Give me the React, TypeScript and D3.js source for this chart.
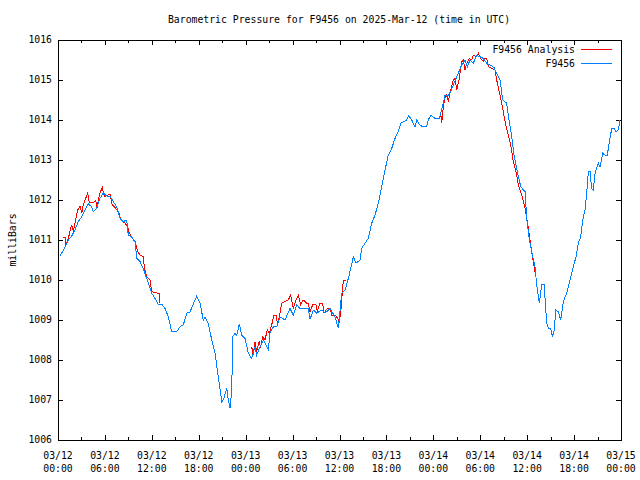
import React from 'react';
import { scaleUtc, scaleLinear, line as d3Line, utcHour, utcFormat } from 'd3';

// hours after 2025-03-12 00:00 UTC, pressure in millibars
const stationReadings: [number, number][] = [
  [0.26, 1010.6], [0.55, 1010.7], [0.9, 1010.83], [1.32, 1011.0], [1.75, 1011.1],
  [2.17, 1011.25], [2.6, 1011.46], [3.03, 1011.58], [3.45, 1011.75], [3.88, 1011.9],
  [4.31, 1011.83], [4.51, 1011.7], [4.95, 1011.8], [5.37, 1012.04], [5.79, 1012.18],
  [6.23, 1012.1], [6.65, 1012.1], [7.07, 1011.96], [7.51, 1011.83], [7.93, 1011.54],
  [8.35, 1011.46], [8.79, 1011.5], [8.99, 1011.12], [9.43, 1011.07], [9.85, 1010.96],
  [10.07, 1010.54], [10.49, 1010.46], [10.91, 1010.29], [11.34, 1010.04], [11.77, 1009.79],
  [11.98, 1009.67], [12.41, 1009.54], [12.83, 1009.38], [13.26, 1009.4], [13.68, 1009.29],
  [14.11, 1009.08], [14.54, 1008.71], [15.18, 1008.71], [15.6, 1008.83], [16.03, 1008.88],
  [16.46, 1009.17], [16.88, 1009.2], [17.3, 1009.4], [17.74, 1009.6], [18.16, 1009.42],
  [18.58, 1009.0], [18.8, 1009.07], [19.22, 1008.92], [19.66, 1008.5], [20.08, 1008.17],
  [20.5, 1007.58], [20.94, 1006.96], [21.14, 1007.0], [21.58, 1007.29], [21.78, 1007.0],
  [22.0, 1006.79], [22.22, 1007.25], [22.34, 1008.58], [22.64, 1008.67], [22.85, 1008.62],
  [23.19, 1008.9], [23.49, 1008.62], [23.92, 1008.54], [24.34, 1008.17], [24.77, 1008.04],
  [25.19, 1008.33], [25.41, 1008.12], [25.83, 1008.33], [26.26, 1008.5], [26.9, 1008.25],
  [27.11, 1008.67], [27.54, 1008.83], [27.97, 1008.83], [28.39, 1009.08], [29.03, 1009.0],
  [29.67, 1009.29], [30.09, 1009.12], [30.53, 1009.38], [30.95, 1009.29], [32.01, 1009.29],
  [32.23, 1009.02], [32.65, 1009.25], [33.09, 1009.17], [33.73, 1009.25], [34.15, 1009.17],
  [34.79, 1009.29], [35.43, 1009.08], [35.85, 1008.79], [36.28, 1009.67], [36.71, 1009.75],
  [37.13, 1010.04], [37.34, 1010.21], [37.77, 1010.58], [38.11, 1010.42], [38.62, 1010.5],
  [38.84, 1010.79], [39.26, 1010.92], [39.69, 1011.04], [40.12, 1011.42], [40.54, 1011.62],
  [40.96, 1011.92], [41.4, 1012.33], [41.82, 1012.75], [42.24, 1013.12], [42.68, 1013.29],
  [43.1, 1013.54], [43.52, 1013.71], [43.83, 1013.92], [44.25, 1013.96], [44.6, 1014.0],
  [44.85, 1014.11], [45.24, 1014.0], [45.66, 1013.83], [45.88, 1014.0], [46.21, 1013.88],
  [46.64, 1013.83], [47.15, 1013.83], [47.36, 1014.0], [47.67, 1014.12], [48.22, 1014.04],
  [48.77, 1014.03], [48.94, 1014.17], [49.28, 1014.42], [49.49, 1014.62], [49.92, 1014.62],
  [50.22, 1014.71], [50.56, 1014.88], [51.2, 1015.17], [51.63, 1015.38], [52.05, 1015.5],
  [52.35, 1015.33], [52.69, 1015.5], [53.11, 1015.42], [53.55, 1015.62], [53.97, 1015.58],
  [54.39, 1015.54], [54.83, 1015.42], [55.25, 1015.38], [55.76, 1015.31], [56.11, 1015.17],
  [56.53, 1015.0], [56.87, 1014.5], [57.38, 1014.42], [57.59, 1014.12], [58.02, 1013.58],
  [58.32, 1013.12], [58.74, 1012.71], [59.18, 1012.33], [59.73, 1012.21], [59.94, 1011.54],
  [60.28, 1011.0], [60.58, 1010.71], [61.0, 1010.33], [61.22, 1009.88], [61.55, 1009.42],
  [61.86, 1009.89], [62.16, 1009.88], [62.3, 1009.5], [62.5, 1008.92], [62.71, 1008.79],
  [63.02, 1008.79], [63.22, 1008.58], [63.47, 1008.75], [63.65, 1009.25], [63.98, 1009.21],
  [64.29, 1009.0], [64.62, 1009.46], [65.06, 1009.67], [65.48, 1010.0], [65.7, 1010.17],
  [65.9, 1010.33], [66.25, 1010.58], [66.54, 1010.92], [66.85, 1011.08], [67.1, 1011.5],
  [67.4, 1011.75], [67.61, 1012.17], [67.82, 1012.71], [68.04, 1012.71], [68.25, 1012.29],
  [68.46, 1012.25], [68.68, 1012.67], [69.1, 1012.92], [69.32, 1012.83], [69.66, 1013.17],
  [69.96, 1013.12], [70.25, 1013.12], [70.51, 1013.46], [70.82, 1013.79], [71.11, 1013.79],
  [71.36, 1013.71], [71.66, 1013.75], [71.88, 1014.0],
];

const analysisMorning12: [number, number][] = [
  [0.68, 1011.07], [0.98, 1011.07], [1.02, 1010.88], [1.32, 1011.04], [1.53, 1011.21],
  [1.75, 1011.38], [1.96, 1011.21], [2.26, 1011.5], [2.52, 1011.75], [2.81, 1011.85],
  [3.03, 1011.67], [3.24, 1011.88], [3.54, 1012.04], [3.8, 1012.17], [4.0, 1011.93],
  [4.51, 1011.93], [4.82, 1011.98], [5.03, 1011.79], [5.15, 1012.0], [5.37, 1012.17],
  [5.67, 1012.32], [5.92, 1012.08], [6.36, 1012.12], [6.65, 1012.15], [6.94, 1011.88],
  [7.38, 1011.79], [7.8, 1011.67], [8.06, 1011.5], [8.57, 1011.42], [8.91, 1011.33],
  [9.08, 1011.21], [9.5, 1011.04], [9.85, 1010.96], [10.19, 1010.71], [10.49, 1010.62],
  [10.91, 1010.58], [11.04, 1010.33], [11.34, 1010.08], [11.77, 1010.0], [11.98, 1009.71],
  [12.41, 1009.68], [12.92, 1009.67], [13.05, 1009.42],
];

const analysisMorning13: [number, number][] = [
  [24.77, 1008.33], [24.98, 1008.12], [25.19, 1008.46], [25.41, 1008.21], [25.71, 1008.46],
  [25.92, 1008.33], [26.18, 1008.58], [26.47, 1008.5], [26.77, 1008.75], [27.02, 1008.67],
  [27.33, 1008.88], [27.62, 1009.12], [27.88, 1009.12], [28.05, 1008.92], [28.3, 1009.08],
  [28.61, 1009.42], [29.03, 1009.46], [29.45, 1009.5], [29.76, 1009.62], [30.09, 1009.29],
  [30.44, 1009.5], [30.73, 1009.62], [31.04, 1009.38], [31.37, 1009.5], [31.81, 1009.42],
  [32.01, 1009.42], [32.23, 1009.21], [32.57, 1009.38], [33.0, 1009.38], [33.16, 1009.21],
  [33.51, 1009.42], [33.85, 1009.42], [34.02, 1009.17], [34.44, 1009.29], [34.79, 1009.29],
  [35.0, 1009.12], [35.43, 1009.12], [35.64, 1009.08], [35.98, 1008.96], [36.16, 1009.2],
  [36.49, 1010.0], [36.83, 1010.0],
];

const analysisMorning14: [number, number][] = [
  [48.94, 1014.17], [49.07, 1013.92], [49.28, 1014.33], [49.49, 1014.54], [49.71, 1014.62],
  [49.92, 1014.46], [50.22, 1014.75], [50.56, 1015.0], [50.77, 1015.04], [50.99, 1014.75],
  [51.32, 1015.04], [51.63, 1015.46], [51.84, 1015.5], [52.05, 1015.25], [52.27, 1015.42],
  [52.6, 1015.54], [52.91, 1015.5], [53.11, 1015.62], [53.46, 1015.58], [53.75, 1015.67],
  [54.06, 1015.54], [54.39, 1015.46], [54.61, 1015.54], [54.83, 1015.54], [55.03, 1015.33],
  [55.47, 1015.29], [55.89, 1015.25], [56.18, 1014.92], [56.53, 1014.62], [56.87, 1014.29],
  [57.17, 1013.96], [57.59, 1013.62], [57.9, 1013.38], [58.23, 1012.96], [58.57, 1012.71],
  [58.87, 1012.38], [59.3, 1012.12], [59.73, 1011.79], [60.15, 1011.29], [60.58, 1010.71],
  [60.78, 1010.46], [61.0, 1010.21],
];

const yTicks = [1006, 1007, 1008, 1009, 1010, 1011, 1012, 1013, 1014, 1015, 1016];
const legendNames = ['F9456 Analysis', 'F9456'];
const legendColors = ['#ff0000', '#0080ff'];

const START = Date.UTC(2025, 2, 12, 0, 0);
const END = Date.UTC(2025, 2, 15, 0, 0);
const toDate = (h: number) => new Date(START + h * 3600 * 1000);

const W = 640;
const H = 480;
const M = { left: 58, right: 621, top: 40, bottom: 440 };
const FONT = '"DejaVu Sans Mono", monospace';

export default function App() {
  const x = scaleUtc().domain([new Date(START), new Date(END)]).range([M.left, M.right]);
  const y = scaleLinear().domain([1006, 1016]).range([M.bottom, M.top]);

  const line = d3Line<[number, number]>()
    .x(d => x(toDate(d[0])))
    .y(d => y(d[1]));

  const majors = x.ticks(utcHour.every(6)!);
  const minors = x.ticks(utcHour.every(3)!).filter(t => t.getUTCHours() % 6 !== 0);
  const fmtDay = utcFormat('%m/%d');
  const fmtTime = utcFormat('%H:%M');

  return (
    <div style={{ position: 'absolute', left: 0, top: 0, background: '#fff' }}>
      <svg width={W} height={H} style={{ display: 'block', fontFamily: FONT }}>
        <rect width={W} height={H} fill="#fff" />

        <text x={W / 2 + 19} y={23} textAnchor="middle" fontSize={9.8} fill="#000">
          Barometric Pressure for F9456 on 2025-Mar-12 (time in UTC)
        </text>

        <text
          transform={`translate(16,${(M.top + M.bottom) / 2}) rotate(-90)`}
          textAnchor="middle"
          fontSize={9.8}
          fill="#000"
        >
          milliBars
        </text>

        {/* y ticks, mirrored on the right */}
        {yTicks.map(t => (
          <g key={t} shapeRendering="crispEdges">
            <line x1={M.left} x2={M.left + 5} y1={Math.round(y(t)) + 0.5} y2={Math.round(y(t)) + 0.5} stroke="#000" />
            <line x1={M.right - 5} x2={M.right} y1={Math.round(y(t)) + 0.5} y2={Math.round(y(t)) + 0.5} stroke="#000" />
            <text x={52} y={y(t)} dy="0.35em" textAnchor="end" fontSize={9.8} fill="#000">
              {t}
            </text>
          </g>
        ))}

        {/* x ticks, mirrored on top */}
        {majors.map(t => {
          const px = Math.round(x(t)) + 0.5;
          return (
            <g key={+t} shapeRendering="crispEdges">
              <line x1={px} x2={px} y1={M.bottom} y2={M.bottom - 5} stroke="#000" />
              <line x1={px} x2={px} y1={M.top} y2={M.top + 5} stroke="#000" />
              <text x={x(t)} y={459} textAnchor="middle" fontSize={9.8} fill="#000">{fmtDay(t)}</text>
              <text x={x(t)} y={472} textAnchor="middle" fontSize={9.8} fill="#000">{fmtTime(t)}</text>
            </g>
          );
        })}
        {minors.map(t => {
          const px = Math.round(x(t)) + 0.5;
          return (
            <g key={+t} shapeRendering="crispEdges">
              <line x1={px} x2={px} y1={M.bottom} y2={M.bottom - 3} stroke="#000" />
              <line x1={px} x2={px} y1={M.top} y2={M.top + 3} stroke="#000" />
            </g>
          );
        })}

        {/* data: analysis first, station on top */}
        {[analysisMorning12, analysisMorning13, analysisMorning14].map((seg, i) => (
          <path key={i} d={line(seg) || ''} fill="none" stroke={legendColors[0]} strokeWidth={1} shapeRendering="crispEdges" />
        ))}
        <path d={line(stationReadings) || ''} fill="none" stroke={legendColors[1]} strokeWidth={1} shapeRendering="crispEdges" />

        {/* border */}
        <rect
          x={M.left + 0.5}
          y={M.top + 0.5}
          width={M.right - M.left}
          height={M.bottom - M.top}
          fill="none"
          stroke="#000"
          shapeRendering="crispEdges"
        />

        {/* legend */}
        {legendNames.map((name, i) => (
          <g key={name}>
            <rect x={500} y={43 + i * 14} width={120} height={13} fill="none" />
            <text x={575} y={53 + i * 14} textAnchor="end" fontSize={9.8} fill="#000">{name}</text>
            <line
              x1={581}
              x2={612}
              y1={49.5 + i * 14}
              y2={49.5 + i * 14}
              stroke={legendColors[i]}
              shapeRendering="crispEdges"
            />
          </g>
        ))}
      </svg>
    </div>
  );
}
